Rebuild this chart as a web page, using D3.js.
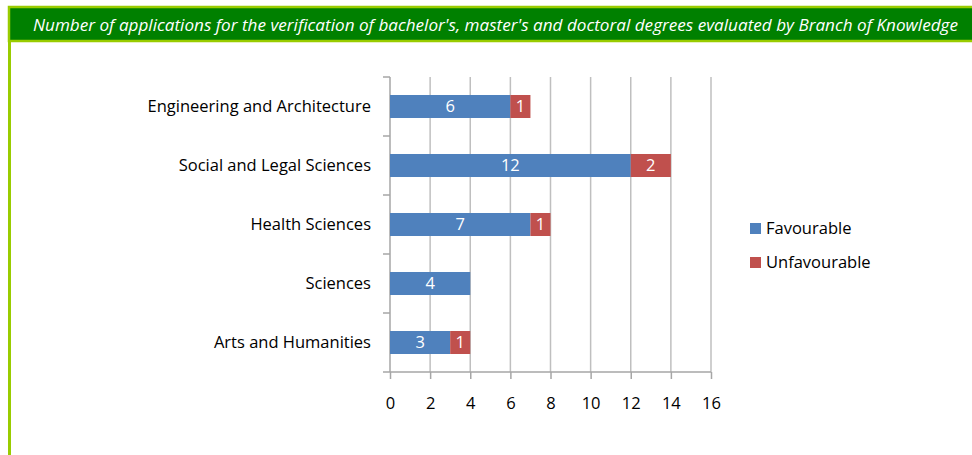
<!DOCTYPE html>
<meta charset="utf-8">
<style>
  body { margin: 0; background: #fff; }
  svg text { font-family: "Open Sans", sans-serif; }
  .grid line { stroke: #bfbfbf; stroke-width: 1.5px; }
  .axis path, .axis line { stroke: #a6a6a6; stroke-width: 1.5px; }
  .axis text { font-size: 16.5px; fill: #000; }
</style>
<svg width="972" height="455"></svg>
<script src="https://d3js.org/d3.v7.min.js"></script>
<script>
  var title = "Number of applications for the verification of bachelor's, master's and doctoral degrees evaluated by Branch of Knowledge";
  var categories = ["Engineering and Architecture", "Social and Legal Sciences", "Health Sciences", "Sciences", "Arts and Humanities"];
  var favourable = [6, 12, 7, 4, 3];
  var unfavourable = [1, 2, 1, 0, 1];
  var seriesNames = ["Favourable", "Unfavourable"];
  var colors = ["#4f81bd", "#c0504d"];
  var xTicks = [0, 2, 4, 6, 8, 10, 12, 14, 16];

  var svg = d3.select("svg");

  // header bar and left frame
  svg.append("rect").attr("x", 9).attr("y", 7).attr("width", 970).attr("height", 34)
    .attr("fill", "#008000").attr("stroke", "#99cc00").attr("stroke-width", 2.5);
  svg.append("rect").attr("x", 8).attr("y", 41).attr("width", 3).attr("height", 420).attr("fill", "#99cc00");
  svg.append("text").attr("x", 33).attr("y", 25).attr("dy", "0.35em")
    .attr("fill", "#fff").style("font-size", "17px").style("font-style", "italic")
    .attr("textLength", 925).attr("lengthAdjust", "spacingAndGlyphs")
    .text(title);

  var x = d3.scaleLinear().domain([0, 16]).range([390, 711]);
  var y = d3.scaleBand().domain(categories).range([77, 372]).paddingInner(0.61).paddingOuter(0.305);

  // vertical gridlines
  svg.append("g").attr("class", "grid")
    .selectAll("line").data(xTicks.slice(1)).enter().append("line")
    .attr("x1", d => x(d)).attr("x2", d => x(d))
    .attr("y1", 77).attr("y2", 372);

  // x axis
  var xAxis = svg.append("g").attr("class", "axis")
    .attr("transform", "translate(0,372)")
    .call(d3.axisBottom(x).tickValues(xTicks).tickSize(7).tickSizeOuter(0).tickPadding(18));
  xAxis.select(".domain").attr("d", "M390,0H711");

  // y axis with ticks at band boundaries
  var yAxis = svg.append("g").attr("class", "axis").attr("transform", "translate(390,0)");
  yAxis.append("line").attr("y1", 77).attr("y2", 372);
  var bounds = d3.range(categories.length + 1).map(i => 77 + i * y.step());
  yAxis.selectAll(".tk").data(bounds).enter().append("line")
    .attr("x1", -7).attr("x2", 0).attr("y1", d => d).attr("y2", d => d);
  yAxis.selectAll(".lbl").data(categories).enter().append("text")
    .attr("x", -19).attr("y", d => y(d) + y.bandwidth() / 2).attr("dy", "0.35em")
    .attr("text-anchor", "end").text(d => d);

  // stacked bars
  var rows = categories.map((c, i) => ({ cat: c, vals: [favourable[i], unfavourable[i]] }));
  var segs = [];
  rows.forEach(r => {
    var start = 0;
    r.vals.forEach((v, k) => {
      if (v > 0) segs.push({ cat: r.cat, k: k, x0: start, x1: start + v, v: v });
      start += v;
    });
  });
  var bars = svg.append("g");
  bars.selectAll("rect").data(segs).enter().append("rect")
    .attr("x", d => x(d.x0)).attr("width", d => x(d.x1) - x(d.x0))
    .attr("y", d => y(d.cat)).attr("height", y.bandwidth())
    .attr("fill", d => colors[d.k]);
  bars.selectAll("text").data(segs).enter().append("text")
    .attr("x", d => (x(d.x0) + x(d.x1)) / 2).attr("y", d => y(d.cat) + y.bandwidth() / 2)
    .attr("dy", "0.35em").attr("text-anchor", "middle")
    .attr("fill", "#fff").style("font-size", "16.5px").text(d => d.v);

  // legend
  var legend = svg.append("g").attr("transform", "translate(750,223)");
  seriesNames.forEach((s, i) => {
    var g = legend.append("g").attr("transform", "translate(0," + i * 34 + ")");
    g.append("rect").attr("width", 11).attr("height", 11).attr("fill", colors[i]);
    g.append("text").attr("x", 16).attr("y", 5.5).attr("dy", "0.35em")
      .style("font-size", "16.5px").attr("fill", "#000").text(s);
  });
</script>
